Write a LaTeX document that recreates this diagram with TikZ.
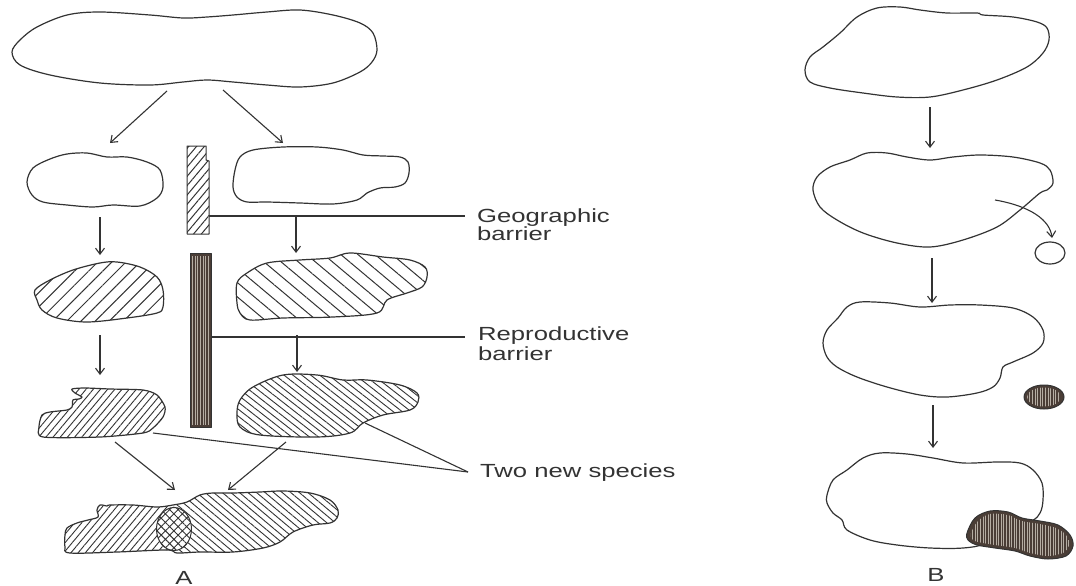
\documentclass[tikz,border=0pt]{standalone}
\usepackage{fontspec}
\setmainfont{Liberation Sans}
\usepackage{graphicx}
\usetikzlibrary{arrows.meta,patterns.meta}
\definecolor{ink}{HTML}{333333}
\definecolor{bark}{HTML}{4A3D36}
\definecolor{streak}{HTML}{B5ADA3}
\newcommand{\wide}[1]{\scalebox{1.35}[1]{#1}}
\tikzset{
  outline/.style={draw=ink, line width=1.2pt, line join=round},
  arr/.style={draw=ink, line width=1.1pt, -{Straight Barb[length=6pt,width=9pt]}},
  ptr/.style={draw=ink, line width=1.1pt},
  lbl/.style={inner sep=0pt, anchor=base west, text=ink, font=\fontsize{19}{19}\selectfont},
  letter/.style={inner sep=0pt, anchor=base, text=ink, font=\fontsize{19}{19}\selectfont},
  blob/.style={smooth cycle, tension=0.55},
  darkfill/.style={fill=bark},
  streaks/.style={pattern={Lines[angle=90,distance=2.6pt,line width=0.6pt]}, pattern color=streak}
}
\begin{document}
\begin{tikzpicture}[x=1pt,y=-1pt]
\useasboundingbox (0,0) rectangle (1076,586);
\fill[white] (0,0) rectangle (1076,586);

% ---------- A : top population
\draw[outline] plot[blob] coordinates {(12,52) (20,40) (37,27) (67,15) (100,12) (150,15) (183,18) (207,17) (233,15) (267,12) (300,10) (333,15) (360,23) (373,33) (377,50) (372,62) (360,72) (333,83) (300,87) (267,85) (233,82) (207,80) (183,82) (150,85) (100,83) (50,75) (20,65)};

\coordinate (a1s) at (167,91); \coordinate (a1e) at (110,143);
\coordinate (a2s) at (223,90); \coordinate (a2e) at (283,143);
\draw[arr] (a1s) -- (a1e);
\draw[arr] (a2s) -- (a2e);

% row 2
\draw[outline] plot[blob] coordinates {(27,182) (33,168) (50,159) (67,154) (87,153) (107,157) (127,157) (147,162) (160,170) (163,187) (157,198) (140,206) (113,205) (93,207) (67,205) (43,202) (32,195)};
\draw[outline] plot[blob] coordinates {(233,187) (235,170) (240,157) (253,150) (283,147) (317,147) (343,150) (363,155) (383,156) (400,157) (408,162) (409,173) (405,183) (395,187) (380,188) (367,193) (357,200) (333,204) (300,203) (267,202) (247,202) (237,197)};

% geographic barrier
\draw[outline, line width=1pt, pattern={Lines[angle=50,distance=6pt,line width=1pt]}, pattern color=ink]
  (187,146) -- (206,146) -- (206,160) -- (209,161) -- (209,234) -- (187,234) -- cycle;
\coordinate (geoS) at (209,216); \coordinate (geoE) at (465,216);
\draw[ptr] (geoS) -- (geoE);
\node[lbl] (geo1) at (477,222) {\wide{Geographic}};
\node[lbl] (geo2) at (477,240) {\wide{barrier}};

% arrows row2 -> row3
\coordinate (b1s) at (100,217); \coordinate (b1e) at (100,255);
\coordinate (b2s) at (296,216); \coordinate (b2e) at (296,253);
\draw[arr] (b1s) -- (b1e);
\draw[arr] (b2s) -- (b2e);

% row 3
\draw[outline, pattern={Lines[angle=45,distance=10pt,line width=1pt]}, pattern color=ink] plot[blob] coordinates {(35,290) (50,280) (73,270) (100,263) (117,262) (140,267) (157,277) (163,290) (163,307) (157,313) (127,318) (87,322) (57,318) (42,310) (37,300)};
\draw[outline, pattern={Lines[angle=-40,distance=11pt,line width=1pt]}, pattern color=ink] plot[blob] coordinates {(237,283) (247,273) (267,263) (300,260) (330,258) (350,253) (383,257) (410,260) (425,267) (427,277) (422,287) (407,293) (387,300) (377,313) (333,317) (283,318) (250,320) (240,313) (237,303)};

% reproductive barrier
\fill[darkfill] (190,253) rectangle (211,427);
\fill[streaks] (192,256) rectangle (209,424);
\draw[outline, line width=1pt] (190,253) rectangle (211,427);
\coordinate (repS) at (211,337); \coordinate (repE) at (465,337);
\draw[ptr] (repS) -- (repE);
\node[lbl] (rep1) at (478,340) {\wide{Reproductive}};
\node[lbl] (rep2) at (478,360) {\wide{barrier}};

% arrows row3 -> row4
\coordinate (c1s) at (100,335); \coordinate (c1e) at (100,375);
\coordinate (c2s) at (297,335); \coordinate (c2e) at (297,372);
\draw[arr] (c1s) -- (c1e);
\draw[arr] (c2s) -- (c2e);

% row 4
\draw[outline, pattern={Lines[angle=50,distance=5.5pt,line width=0.9pt]}, pattern color=ink] plot[smooth cycle, tension=0.45] coordinates {(72,389) (85,388) (110,389) (143,390) (157,395) (165,407) (163,417) (153,428) (143,433) (100,437) (43,437) (39,427) (42,415) (50,412) (67,410) (72,407) (73,400) (79,399) (82,397) (75,393)};
\draw[outline, pattern={Lines[angle=-38,distance=5.5pt,line width=0.9pt]}, pattern color=ink] plot[blob] coordinates {(237,413) (240,400) (253,387) (283,375) (317,375) (343,380) (367,380) (400,385) (417,393) (418,402) (410,410) (383,415) (363,423) (350,433) (317,437) (260,435) (240,427)};

% pointer to "Two new species"
\coordinate (spL) at (153,433); \coordinate (spR) at (365,423); \coordinate (spM) at (468,472);
\draw[ptr] (spL) -- (spM);
\draw[ptr] (spR) -- (spM);
\node[lbl] (two) at (480,477) {\wide{Two new species}};

% arrows row4 -> row5
\coordinate (d1s) at (115,442); \coordinate (d1e) at (175,490);
\coordinate (d2s) at (286,442); \coordinate (d2e) at (228,490);
\draw[arr] (d1s) -- (d1e);
\draw[arr] (d2s) -- (d2e);

% row 5
\begin{scope}
  \clip (0,440) rectangle (174,586);
  \fill[pattern={Lines[angle=50,distance=5.5pt,line width=0.9pt]}, pattern color=ink] plot[blob] coordinates {(65,535) (67,528) (77,523) (88,520) (98,517) (97,510) (100,505) (107,506) (110,505) (133,505) (157,507) (173,505) (187,502) (200,495) (213,493) (233,493) (260,492) (283,491) (310,493) (330,500) (338,510) (337,518) (330,523) (313,525) (293,532) (280,542) (263,548) (233,552) (200,552) (177,553) (167,550) (117,552) (70,553) (65,547)};
\end{scope}
\begin{scope}
  \clip (174,440) rectangle (400,586);
  \fill[pattern={Lines[angle=-40,distance=5.5pt,line width=0.9pt]}, pattern color=ink] plot[blob] coordinates {(65,535) (67,528) (77,523) (88,520) (98,517) (97,510) (100,505) (107,506) (110,505) (133,505) (157,507) (173,505) (187,502) (200,495) (213,493) (233,493) (260,492) (283,491) (310,493) (330,500) (338,510) (337,518) (330,523) (313,525) (293,532) (280,542) (263,548) (233,552) (200,552) (177,553) (167,550) (117,552) (70,553) (65,547)};
\end{scope}
\fill[white] (174,529) ellipse [x radius=17.5, y radius=21.5];
\draw[outline, line width=1pt, pattern={Hatch[angle=45,distance=6pt,line width=0.9pt]}, pattern color=ink] (174,529) ellipse [x radius=17.5, y radius=21.5];
\draw[outline] plot[blob] coordinates {(65,535) (67,528) (77,523) (88,520) (98,517) (97,510) (100,505) (107,506) (110,505) (133,505) (157,507) (173,505) (187,502) (200,495) (213,493) (233,493) (260,492) (283,491) (310,493) (330,500) (338,510) (337,518) (330,523) (313,525) (293,532) (280,542) (263,548) (233,552) (200,552) (177,553) (167,550) (117,552) (70,553) (65,547)};

\node[letter] (labA) at (184,584) {\wide{A}};

% ---------- B
\draw[outline] plot[blob] coordinates {(805,70) (810,57) (823,47) (840,33) (857,17) (877,8) (900,7) (920,10) (947,13) (977,13) (983,15) (1013,17) (1037,22) (1047,28) (1049,40) (1043,53) (1027,67) (997,80) (963,90) (930,97) (897,97) (863,93) (830,88) (810,82)};
\coordinate (e1s) at (930,107); \coordinate (e1e) at (930,148);
\draw[arr] (e1s) -- (e1e);

\draw[outline] plot[blob] coordinates {(813,190) (817,177) (830,167) (850,160) (867,153) (887,153) (907,157) (930,160) (953,157) (980,155) (1013,157) (1040,163) (1050,170) (1053,183) (1047,190) (1040,193) (1020,210) (997,227) (963,240) (930,247) (897,243) (863,233) (837,220) (820,207)};
\coordinate (migS) at (995,200); \coordinate (migE) at (1052,238);
\draw[arr] (migS) .. controls (1030,206) and (1050,220) .. (migE);
\draw[outline] (1050,253) ellipse [x radius=15, y radius=11];

\coordinate (e2s) at (932,258); \coordinate (e2e) at (932,303);
\draw[arr] (e2s) -- (e2e);

\draw[outline] plot[blob] coordinates {(823,343) (827,330) (838,318) (847,307) (860,302) (890,303) (920,307) (950,305) (980,305) (1013,308) (1033,317) (1043,330) (1043,343) (1033,353) (1013,362) (1003,367) (1000,378) (993,387) (977,393) (947,397) (920,395) (887,387) (857,377) (837,367) (827,357)};
\fill[darkfill] (1044,397) ellipse [x radius=20, y radius=12];
\fill[streaks] (1044,397) ellipse [x radius=17, y radius=9.5];
\draw[outline, line width=1pt] (1044,397) ellipse [x radius=20, y radius=12];

\coordinate (e3s) at (933,405); \coordinate (e3e) at (933,448);
\draw[arr] (e3s) -- (e3e);

\draw[outline] plot[blob] coordinates {(827,495) (833,480) (847,470) (863,458) (880,453) (907,454) (933,458) (963,463) (997,462) (1020,463) (1033,470) (1042,483) (1043,500) (1040,513) (1030,522) (987,543) (963,548) (930,548) (897,545) (870,540) (847,530) (842,520) (833,513) (827,503)};
\fill[darkfill] plot[blob] coordinates {(967,533) (975,518) (990,511) (1008,512) (1022,518) (1040,521) (1058,525) (1070,535) (1073,546) (1066,556) (1048,559) (1030,556) (1015,551) (995,548) (977,545) (968,540)};
\fill[streaks] plot[blob] coordinates {(971,533) (978,521) (990,514) (1008,515) (1022,521) (1040,524) (1056,528) (1067,536) (1069,546) (1063,553) (1048,556) (1030,553) (1015,548) (995,545) (978,542) (972,539)};
\draw[outline, line width=1pt] plot[blob] coordinates {(967,533) (975,518) (990,511) (1008,512) (1022,518) (1040,521) (1058,525) (1070,535) (1073,546) (1066,556) (1048,559) (1030,556) (1015,551) (995,548) (977,545) (968,540)};

\node[letter] (labB) at (936,581) {\wide{B}};
\end{tikzpicture}
\end{document}
